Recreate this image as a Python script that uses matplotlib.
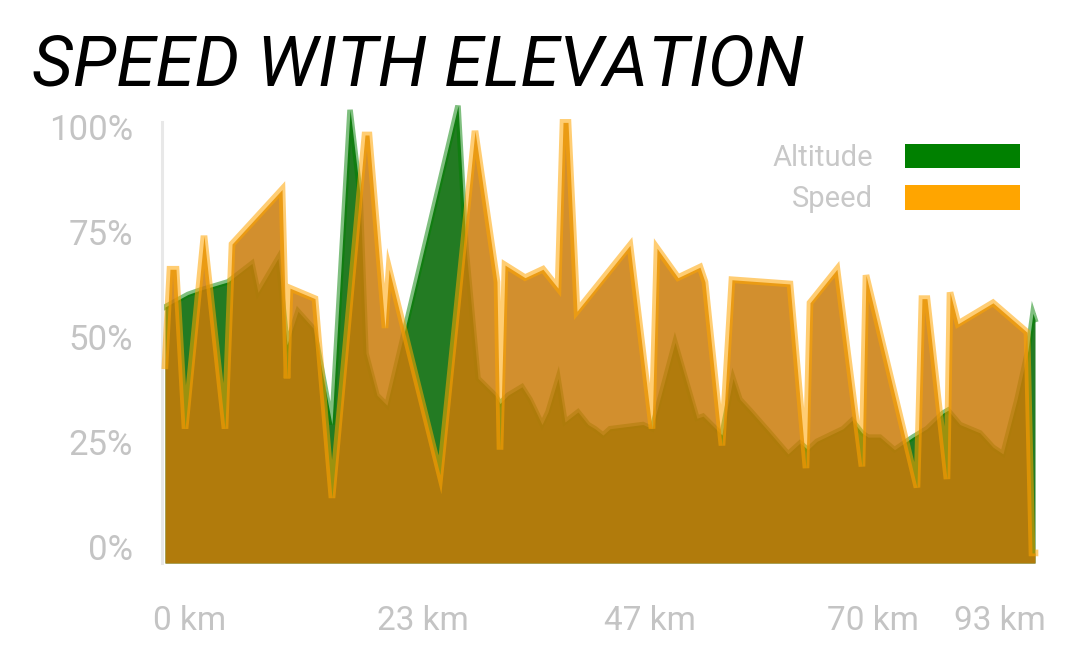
import matplotlib
matplotlib.use("Agg")
import matplotlib.pyplot as plt
import matplotlib.transforms as mtransforms
from matplotlib.patches import Patch

# distance (km) and value (% of max)
SPEED_KM = [0.0, 0.51, 1.13, 2.05, 3.99, 6.14, 6.86, 11.98, 12.49, 12.79, 15.35,
            17.09, 20.47, 20.88, 22.52, 22.93, 28.15, 31.73, 33.98, 34.29, 34.80,
            36.85, 38.69, 40.23, 40.74, 41.25, 42.17, 47.59, 49.85, 50.36, 52.51,
            54.76, 55.27, 57.01, 58.03, 63.97, 65.61, 66.02, 68.78, 71.34, 71.75,
            76.97, 77.48, 77.99, 80.04, 80.35, 81.17, 84.75, 88.23, 88.74, 89.05]
SPEED_PCT = [47, 70, 70, 32, 78, 32, 76, 89, 44, 65.5, 63,
             15.5, 102, 102, 56, 70, 21, 103, 67, 27, 71,
             68, 70, 65.5, 105, 105, 60, 75.7, 32, 75, 68,
             70.5, 67, 28, 67.5, 66.5, 22.6, 62, 70, 23, 68.6,
             18, 63, 63, 20, 64.5, 57, 62, 55, 2.4, 2.4]

ALT_KM = [0.0, 2.35, 3.58, 6.45, 8.90, 9.52, 11.57, 12.49, 13.61, 15.15, 15.56,
          17.09, 18.94, 19.96, 20.57, 21.70, 22.72, 29.99,
          30.81, 32.04, 33.78, 34.29, 35.11, 36.54, 37.36, 38.59, 39.20, 40.23,
          40.94, 42.27, 43.30, 44.01, 44.83, 45.55, 48.93, 49.85, 52.20, 54.45,
          55.07, 57.01, 58.14, 58.85, 59.88, 61.92, 63.77, 65.00, 65.81, 66.73,
          69.40, 70.32, 71.34, 71.95, 73.18, 74.67, 76.56, 77.99, 79.63, 80.14,
          81.37, 82.70, 83.42, 84.75, 85.77, 87.21, 88.33, 88.84, 89.05]
ALT_PCT = [61, 64, 65, 67, 71.4, 64.5, 72.6, 52, 60, 56, 52,
           33, 108, 88, 50, 40, 37.6, 109,
           75, 44, 40, 38, 40, 42, 39, 33, 36, 44,
           33.6, 36, 33, 32, 30.5, 32, 33, 32, 52.6, 34.5,
           35, 30.5, 44, 39, 36.4, 31, 26, 28.6, 27, 29,
           32, 34, 31, 30, 30, 27, 30, 32, 35.7, 36.4,
           33, 31.7, 31, 27.6, 26, 39, 50.7, 59.5, 58]

Y_TICKS = [0, 25, 50, 75, 100]
Y_LABELS = ["0%", "25%", "50%", "75%", "100%"]
X_TICKS = [2.56, 26.4, 49.6, 72.5, 85.5]
X_LABELS = ["0 km", "23 km", "47 km", "70 km", "93 km"]

plt.rcParams["font.family"] = ["Roboto", "DejaVu Sans"]
GREY = "#c4c4c4"

fig = plt.figure(figsize=(10.8, 6.6), dpi=100)
ax = fig.add_axes([165 / 1080, 97 / 660, 870 / 1080, 470 / 660])

ax.fill_between(ALT_KM, ALT_PCT, 0, color="#237b23", lw=0, zorder=1)
ax.plot(ALT_KM, ALT_PCT, color=(0, 0.5, 0, 0.5), lw=4, zorder=2,
        solid_joinstyle="miter", clip_on=False)
ax.fill_between(SPEED_KM, SPEED_PCT, 0, color=(203 / 255, 123 / 255, 9 / 255),
                alpha=0.85, lw=0, zorder=3)
ax.plot(SPEED_KM, SPEED_PCT, color=(1, 0.647, 0, 0.55), lw=4.8, zorder=4,
        solid_joinstyle="miter", clip_on=False)

ax.set_xlim(0, max(SPEED_KM))
ax.set_ylim(0, 112)

for side in ["top", "right", "bottom"]:
    ax.spines[side].set_visible(False)
ax.spines["left"].set_color("#e8e8e8")
ax.spines["left"].set_linewidth(2.2)
ax.spines["left"].set_bounds(0, 105)
ax.spines["left"].set_position(("outward", 2))

ax.set_yticks(Y_TICKS)
ax.set_yticklabels(Y_LABELS)
ax.set_xticks(X_TICKS)
ax.set_xticklabels(X_LABELS)
ax.tick_params(axis="y", length=0, pad=21, labelsize=25, labelcolor=GREY)
ax.tick_params(axis="x", length=0, pad=30, labelsize=24, labelcolor=GREY)
shift = mtransforms.ScaledTranslation(0, 0.16, fig.dpi_scale_trans)
for lab in ax.get_yticklabels():
    lab.set_transform(lab.get_transform() + shift)

handles = [Patch(facecolor="#008000", label="Altitude"),
           Patch(facecolor="#ffa500", label="Speed")]
leg = ax.legend(handles=handles, loc="upper right",
                bbox_to_anchor=(1020 / 1080, (660 - 144) / 660),
                bbox_transform=fig.transFigure, frameon=False,
                markerfirst=False, borderpad=0, borderaxespad=0,
                handlelength=3.94, handleheight=0.9, handletextpad=1.1,
                labelspacing=0.45, fontsize=21)
for t in leg.get_texts():
    t.set_color("#c8c8c8")

fig.text(32 / 1080, (660 - 85) / 660, "SPEED WITH ELEVATION", fontsize=51,
         fontstyle="italic", color="black", va="baseline", ha="left")

fig.savefig("out.png", dpi=100)
